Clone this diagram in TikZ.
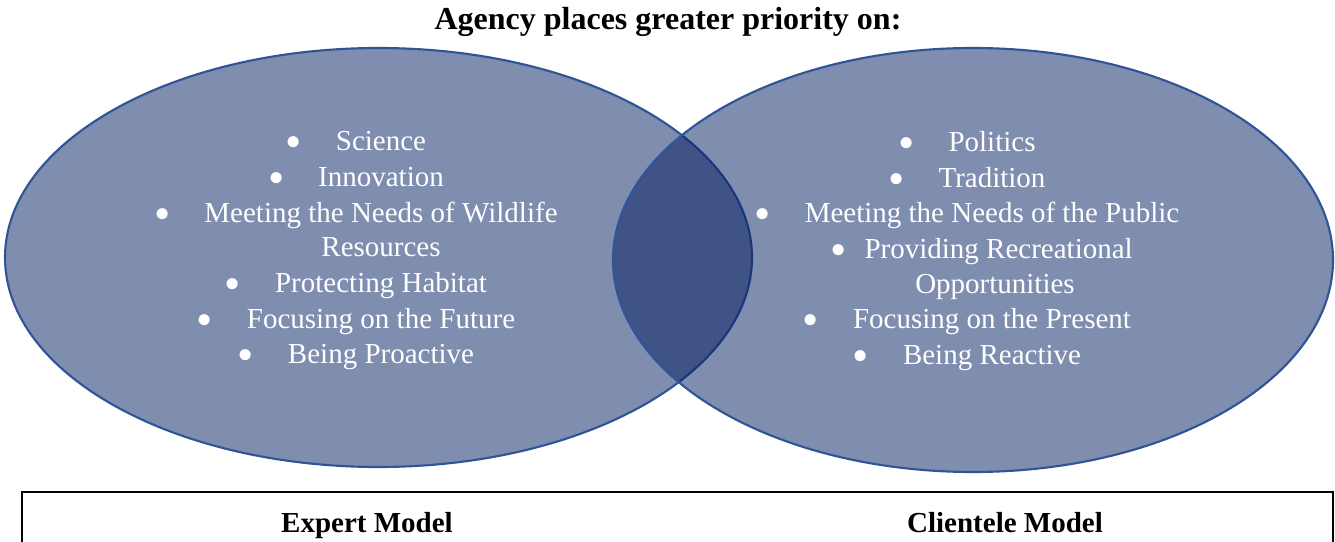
\documentclass[tikz,border=0pt]{standalone}
\usepackage{fontspec}
\setmainfont{Liberation Serif}
\usetikzlibrary{shapes.geometric}
\definecolor{vennfill}{RGB}{0,27,95}
\definecolor{vennline}{RGB}{47,85,151}
\newcommand{\bul}[1][25.4pt]{\llap{\raisebox{-5.3pt}{\scalebox{1.6}{\textbullet}}\hspace{#1}}}
\tikzset{
  setshape/.style={ellipse,draw=vennline,line width=1.6pt,fill=vennfill,fill opacity=0.5,inner sep=0pt},
  itemtext/.style={text=white,font=\fontsize{21.75}{26}\selectfont,anchor=base,inner sep=0pt},
  headtext/.style={font=\fontsize{21.75}{26}\selectfont\bfseries,anchor=base,inner sep=0pt},
}

\begin{document}
\begin{tikzpicture}[x=0.75pt,y=-0.75pt]
\useasboundingbox (0,0) rectangle (1335,542);
\clip (0,0) rectangle (1335,542);
%%%%%%%%%%%%%%%%%%%% heading %%%%%%%%%%%%%%%%%%%%
\node[headtext,font=\fontsize{24}{28}\selectfont\bfseries] (title) at (668,30) {Agency places greater priority on:};
%%%%%%%%%%%%%%%%%%%% the two sets %%%%%%%%%%%%%%%%%%%%
\node[setshape,minimum width=560.25pt,minimum height=314.25pt] (expert) at (378.5,257.5) {};
\node[setshape,minimum width=540pt,minimum height=318pt] (client) at (973,260) {};
%%%%%%%%%%%%%%%%%%%% expert items %%%%%%%%%%%%%%%%%%%%
\node[itemtext] (e1) at (381,150) {\bul Science};
\node[itemtext] (e2) at (381,186) {\bul Innovation};
\node[itemtext] (e3) at (381,222) {\bul Meeting the Needs of Wildlife};
\node[itemtext] (e3b) at (381,256) {Resources};
\node[itemtext] (e4) at (381,292) {\bul Protecting Habitat};
\node[itemtext] (e5) at (381,328) {\bul Focusing on the Future};
\node[itemtext] (e6) at (381,363) {\bul Being Proactive};
%%%%%%%%%%%%%%%%%%%% clientele items %%%%%%%%%%%%%%%%%%%%
\node[itemtext] (c1) at (992,151) {\bul Politics};
\node[itemtext] (c2) at (992,187) {\bul Tradition};
\node[itemtext] (c3) at (992,222) {\bul Meeting the Needs of the Public};
\node[itemtext] (c4) at (995,258) {\bul[8.2pt] Providing Recreational};
\node[itemtext] (c4b) at (995,293) {Opportunities};
\node[itemtext] (c5) at (992,328) {\bul Focusing on the Present};
\node[itemtext] (c6) at (992,364) {\bul Being Reactive};
%%%%%%%%%%%%%%%%%%%% model labels %%%%%%%%%%%%%%%%%%%%
\draw[line width=1.2pt] (22,492) rectangle (1333,570);
\node[headtext] (expertlbl) at (367,532) {Expert Model};
\node[headtext] (clientlbl) at (1005,532) {Clientele Model};
\end{tikzpicture}
\end{document}
